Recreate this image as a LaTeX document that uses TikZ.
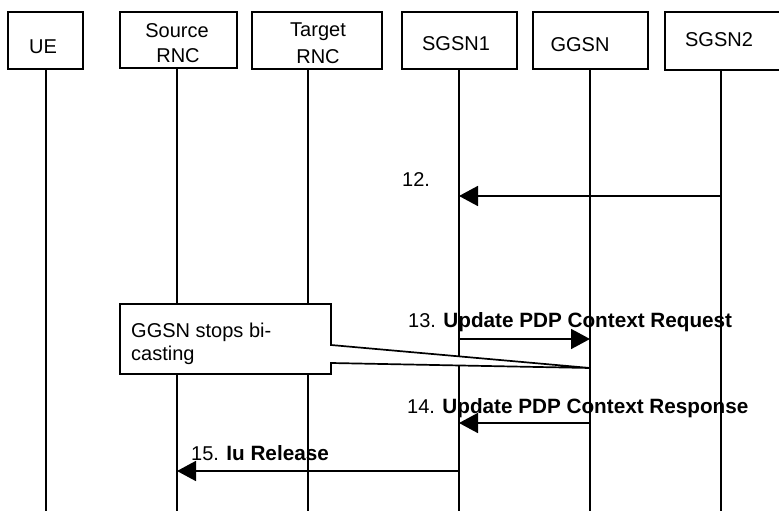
\documentclass[tikz,border=0pt]{standalone}
\usepackage{fontspec}
\setmainfont{Liberation Sans}
\usetikzlibrary{arrows.meta}
\newcommand\boldlbl[1]{{\fontsize{20.7bp}{25bp}\selectfont\bfseries #1}}
\begin{document}
\begin{tikzpicture}[x=1bp,y=-1bp,
  ent/.style={draw,line width=1.9bp,fill=white},
  life/.style={line width=1.9bp},
  msg/.style={line width=1.7bp,-{Triangle[length=19bp,width=20bp]}},
  txt/.style={font=\fontsize{20bp}{25bp}\selectfont,inner sep=0pt},
  notebox/.style={draw,line width=1.7bp,fill=white,line join=miter}]
\useasboundingbox (0,0) rectangle (779,511);
\clip (0,0) rectangle (779,511);
% lifeline coordinates
\coordinate (ueB) at (46,511);
\coordinate (srB) at (177,511);
\coordinate (trB) at (308,511);
\coordinate (s1B) at (459,511);
\coordinate (ggB) at (590,511);
\coordinate (s2B) at (721,511);
\coordinate (ueT) at (46,69);
\coordinate (srT) at (177,68);
\coordinate (trT) at (308,69);
\coordinate (s1T) at (459,69);
\coordinate (ggT) at (590,69);
\coordinate (s2T) at (721,70);
% lifelines
\draw[life] (ueT) -- (ueB);
\draw[life] (srT) -- (srB);
\draw[life] (trT) -- (trB);
\draw[life] (s1T) -- (s1B);
\draw[life] (ggT) -- (ggB);
\draw[life] (s2T) -- (s2B);
% entity boxes
\draw[ent] (8,12) rectangle (83,69) coordinate (ue);
\draw[ent] (120,12) rectangle (237,68) coordinate (sr);
\draw[ent] (252,12) rectangle (382,69) coordinate (tr);
\draw[ent] (402,12) rectangle (517,69) coordinate (s1);
\draw[ent] (533,12) rectangle (648,69) coordinate (gg);
\draw[ent] (665,12) rectangle (785,70) coordinate (s2);
\node[txt,anchor=base] (ueL) at (43,54) {UE};
\node[txt,anchor=base] (srL1) at (177,38) {Source};
\node[txt,anchor=base] (srL2) at (178,63) {RNC};
\node[txt,anchor=base] (trL1) at (318,37) {Target};
\node[txt,anchor=base] (trL2) at (318,64) {RNC};
\node[txt,anchor=base] (s1L) at (456,51) {SGSN1};
\node[txt,anchor=base] (ggL) at (580,52) {GGSN};
\node[txt,anchor=base] (s2L) at (719,47) {SGSN2};
% message coordinates
\coordinate (m12a) at (721,196);
\coordinate (m12b) at (459,196);
\coordinate (m13a) at (459,339);
\coordinate (m13b) at (590,339);
\coordinate (m14a) at (590,423);
\coordinate (m14b) at (459,423);
\coordinate (m15a) at (459,471);
\coordinate (m15b) at (177,471);
% note with callout
\coordinate (calltip) at (590,368);
\draw[notebox] (331,345) -- (331,304) -- (120,304) -- (120,374) -- (331,374) -- (331,363) -- (calltip) -- cycle;
\node[txt,anchor=base west] (noteL1) at (131,337) {GGSN stops bi-};
\node[txt,anchor=base west] (noteL2) at (131,360) {casting};
% messages
\draw[msg] (m12a) -- (m12b);
\draw[msg] (m13a) -- (m13b);
\draw[msg] (m14a) -- (m14b);
\draw[msg] (m15a) -- (m15b);
\node[txt,anchor=base west] (l12) at (402,187) {12.};
\node[txt,anchor=base west] (l13) at (408,327) {13. \boldlbl{Update PDP Context Request}};
\node[txt,anchor=base west] (l14) at (407,413) {14. \boldlbl{Update PDP Context Response}};
\node[txt,anchor=base west] (l15) at (191,460) {15. \boldlbl{Iu Release}};
\end{tikzpicture}
\end{document}
